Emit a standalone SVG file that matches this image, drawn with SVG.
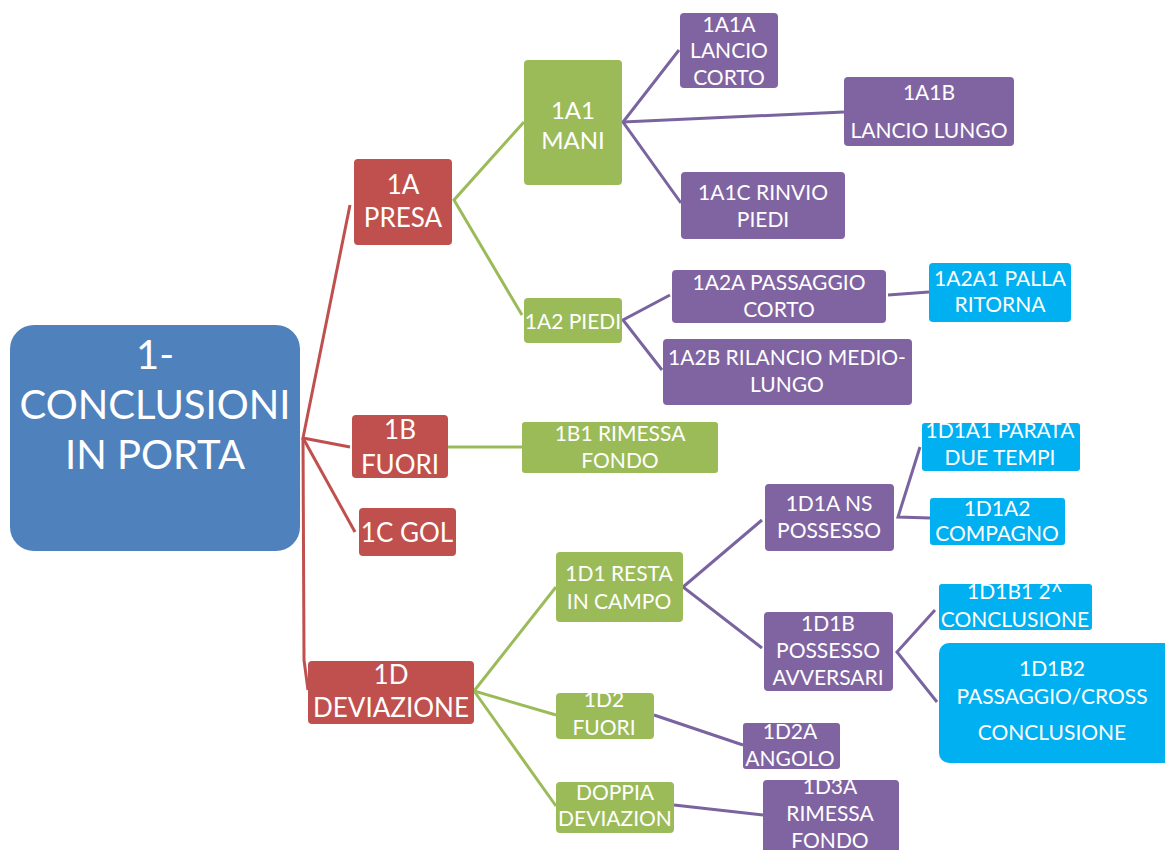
<svg xmlns="http://www.w3.org/2000/svg" width="1165" height="850" viewBox="0 0 1165 850">
<style>
text{font-family:Lato,"Liberation Sans",sans-serif;fill:#fff;text-anchor:middle}
.t{font-size:21px}
.g{font-size:24px}
.m{font-size:26px}
.r{font-size:40px}
.red{fill:#C0504D}
.grn{fill:#9BBB59}
.pur{fill:#8064A2}
.cy{fill:#00B0F0}
.cr{stroke:#C0504D}
.cg{stroke:#9BBB59}
.cp{stroke:#7A64A0}
line,polyline{stroke-width:3;fill:none}
</style>
<rect width="1165" height="850" fill="#fff"/>
<g id="connectors">
<polyline class="cr" points="350,205 303,438 350,447"/>
<line class="cr" x1="303" y1="438" x2="355" y2="532"/>
<polyline class="cr" points="303,438 304,660 308,690"/>
<polyline class="cg" points="524,122 454,200 522,315"/>
<line class="cg" x1="448" y1="447" x2="522" y2="447"/>
<polyline class="cg" points="556,587 474,691 556,715"/>
<line class="cg" x1="474" y1="691" x2="556" y2="806"/>
<polyline class="cp" points="679,50 623,122 681,203"/>
<line class="cp" x1="623" y1="122" x2="844" y2="112"/>
<polyline class="cp" points="670,295 623,320 662,370"/>
<line class="cp" x1="888" y1="295" x2="929" y2="292"/>
<polyline class="cp" points="762,520 683,587 762,648"/>
<polyline class="cp" points="920,447 898,517 930,518"/>
<polyline class="cp" points="935,610 897,652 937,702"/>
<line class="cp" x1="654" y1="715" x2="743" y2="745"/>
<line class="cp" x1="674" y1="805" x2="763" y2="815"/>
</g>
<g id="root"><rect x="10" y="325" width="290" height="226" rx="24" fill="#4F81BD"/>
<text class="r" x="155" y="369">1-</text><text class="r" x="155" y="419">CONCLUSIONI</text><text class="r" x="155" y="469">IN PORTA</text></g>
<g id="n1A"><rect class="red" x="354" y="159" width="98" height="86" rx="4"/><text class="m" x="403" y="194">1A</text><text class="m" x="403" y="227">PRESA</text></g>
<g id="n1B"><rect class="red" x="352" y="415" width="96" height="63" rx="4"/><text class="m" x="400" y="439">1B</text><text class="m" x="400" y="474">FUORI</text></g>
<g id="n1C"><rect class="red" x="359" y="508" width="97" height="48" rx="4"/><text class="m" x="407" y="542">1C GOL</text></g>
<g id="n1D"><rect class="red" x="308" y="661" width="166" height="63" rx="4"/><text class="m" x="391" y="684">1D</text><text class="m" x="391" y="717">DEVIAZIONE</text></g>
<g id="n1A1"><rect class="grn" x="524" y="60" width="98" height="125" rx="4"/><text class="g" x="573" y="119">1A1</text><text class="g" x="573" y="149">MANI</text></g>
<g id="n1A2"><rect class="grn" x="524" y="298" width="98" height="45" rx="4"/><text class="t" x="573" y="329">1A2 PIEDI</text></g>
<g id="n1B1"><rect class="grn" x="522" y="422" width="196" height="51" rx="3"/><text class="t" x="620" y="441">1B1 RIMESSA</text><text class="t" x="620" y="468">FONDO</text></g>
<g id="n1D1"><rect class="grn" x="556" y="552" width="127" height="70" rx="4"/><text class="t" x="619" y="581">1D1 RESTA</text><text class="t" x="619" y="609">IN CAMPO</text></g>
<g id="n1D2"><rect class="grn" x="556" y="693" width="98" height="46" rx="4"/><text class="t" x="604" y="707">1D2</text><text class="t" x="604" y="735">FUORI</text></g>
<g id="n1D3"><rect class="grn" x="556" y="782" width="118" height="51" rx="4"/><text class="t" x="615" y="800">DOPPIA</text><text class="t" x="615" y="826">DEVIAZION</text></g>
<g id="n1A1A"><rect class="pur" x="680" y="13" width="98" height="75" rx="4"/><text class="t" x="729" y="32">1A1A</text><text class="t" x="729" y="58">LANCIO</text><text class="t" x="729" y="85">CORTO</text></g>
<g id="n1A1B"><rect class="pur" x="844" y="77" width="170" height="69" rx="4"/><text class="t" x="929" y="100">1A1B</text><text class="t" x="929" y="138">LANCIO LUNGO</text></g>
<g id="n1A1C"><rect class="pur" x="681" y="172" width="164" height="67" rx="4"/><text class="t" x="763" y="200">1A1C RINVIO</text><text class="t" x="763" y="227">PIEDI</text></g>
<g id="n1A2A"><rect class="pur" x="672" y="270" width="214" height="53" rx="4"/><text class="t" x="779" y="290">1A2A PASSAGGIO</text><text class="t" x="779" y="317">CORTO</text></g>
<g id="n1A2B"><rect class="pur" x="663" y="339" width="249" height="66" rx="4"/><text class="t" x="787" y="365">1A2B RILANCIO MEDIO-</text><text class="t" x="787" y="392">LUNGO</text></g>
<g id="n1A2A1"><rect class="cy" x="929" y="263" width="142" height="59" rx="4"/><text class="t" x="1000" y="286">1A2A1 PALLA</text><text class="t" x="1000" y="312">RITORNA</text></g>
<g id="n1D1A"><rect class="pur" x="765" y="484" width="129" height="67" rx="4"/><text class="t" x="829" y="511">1D1A NS</text><text class="t" x="829" y="538">POSSESSO</text></g>
<g id="n1D1B"><rect class="pur" x="764" y="612" width="129" height="79" rx="4"/><text class="t" x="828" y="631">1D1B</text><text class="t" x="828" y="658">POSSESSO</text><text class="t" x="828" y="685">AVVERSARI</text></g>
<g id="n1D1A1"><rect class="cy" x="922" y="423" width="158" height="48" rx="3"/><text class="t" x="1000" y="438">1D1A1 PARATA</text><text class="t" x="1000" y="465">DUE TEMPI</text></g>
<g id="n1D1A2"><rect class="cy" x="930" y="498" width="135" height="47" rx="3"/><text class="t" x="997" y="516">1D1A2</text><text class="t" x="997" y="541">COMPAGNO</text></g>
<g id="n1D1B1"><rect class="cy" x="939" y="584" width="153" height="46" rx="3"/><text class="t" x="1015" y="599">1D1B1 2^</text><text class="t" x="1015" y="627">CONCLUSIONE</text></g>
<g id="n1D1B2"><rect class="cy" x="939" y="643" width="235" height="120" rx="10"/><text class="t" x="1052" y="676">1D1B2</text><text class="t" x="1052" y="704">PASSAGGIO/CROSS</text><text class="t" x="1052" y="740">CONCLUSIONE</text></g>
<g id="n1D2A"><rect class="pur" x="743" y="723" width="97" height="46" rx="3"/><text class="t" x="790" y="739">1D2A</text><text class="t" x="790" y="766">ANGOLO</text></g>
<g id="n1D3A"><rect class="pur" x="763" y="780" width="136" height="75" rx="4"/><text class="t" x="830" y="794">1D3A</text><text class="t" x="830" y="821">RIMESSA</text><text class="t" x="830" y="848">FONDO</text></g>
</svg>
